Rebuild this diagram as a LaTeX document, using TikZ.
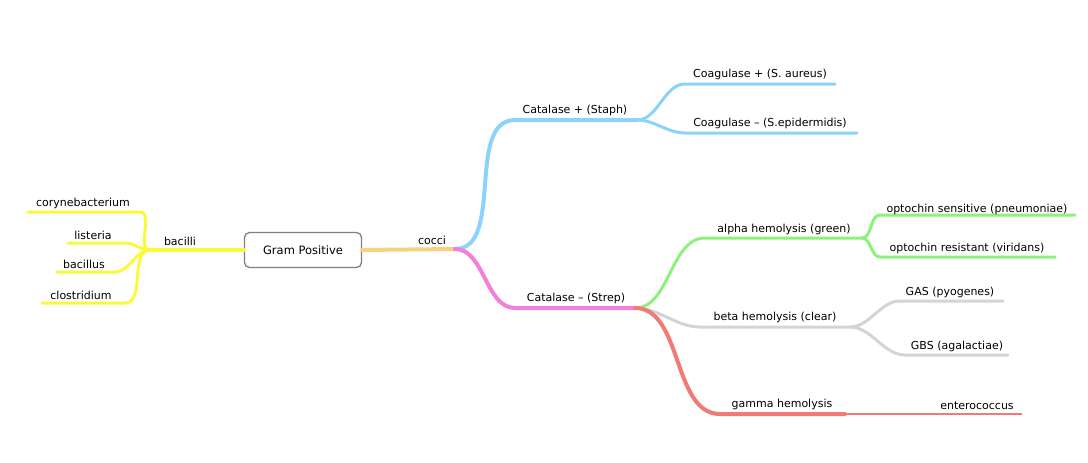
\documentclass[tikz,border=0pt]{standalone}
\usepackage{fontspec}
\setmainfont{DejaVu Sans}
\begin{document}
\begin{tikzpicture}[x=1pt,y=-1pt,
  lbl/.style={font=\fontsize{11}{13}\selectfont,inner sep=1pt},
  br/.style={line width=4pt,line cap=round},
  sub/.style={line width=3pt,line cap=round},
  cv/.style={out=0,in=180,looseness=0.9},
  cvl/.style={out=180,in=0,looseness=0.9}]
\definecolor{yel}{HTML}{FAFA3C}
\definecolor{org}{HTML}{F5D27E}
\definecolor{blu}{HTML}{8CD2FA}
\definecolor{pnk}{HTML}{F27FDC}
\definecolor{grn}{HTML}{8CF27A}
\definecolor{gry}{HTML}{D4D4D4}
\definecolor{rd}{HTML}{F27A74}
\useasboundingbox (0,0) rectangle (1088,463);
% root
\node[draw=gray,line width=1.3pt,rounded corners=5pt,minimum width=117pt,minimum height=35pt,font=\fontsize{11.5}{13}\selectfont] (gp) at (303,250) {Gram Positive};
% coordinates
\coordinate (bj) at (150,250);
\coordinate (cj) at (455,249);
\coordinate (c1s) at (28,212); \coordinate (c1e) at (140,212);
\coordinate (c2s) at (68,243); \coordinate (c2e) at (125,243);
\coordinate (c3s) at (57,272); \coordinate (c3e) at (115,272);
\coordinate (c4s) at (42,303); \coordinate (c4e) at (125,303);
\coordinate (sps) at (515,120); \coordinate (spe) at (637,120);
\coordinate (sts) at (515,308); \coordinate (ste) at (635,308);
\coordinate (cps) at (685,84); \coordinate (cpe) at (835,84);
\coordinate (cms) at (685,133); \coordinate (cme) at (857,133);
\coordinate (als) at (705,238); \coordinate (ale) at (862,238);
\coordinate (oss) at (880,215); \coordinate (ose) at (1075,215);
\coordinate (ors) at (880,257); \coordinate (ore) at (1055,257);
\coordinate (bes) at (700,327); \coordinate (bee) at (850,327);
\coordinate (gas) at (900,301); \coordinate (gae) at (1003,301);
\coordinate (gbs) at (905,355); \coordinate (gbe) at (1008,355);
\coordinate (gms) at (720,414); \coordinate (gme) at (845,414);
\coordinate (ene) at (1022,414);
% connectors
\draw[org,br] (gp.east) -- (cj);
\draw[yel,br] (gp.west) -- (bj);
\draw[yel,sub] (bj) to[cvl] (c1e) -- (c1s);
\draw[yel,sub] (bj) to[cvl] (c2e) -- (c2s);
\draw[yel,sub] (bj) to[cvl] (c3e) -- (c3s);
\draw[yel,sub] (bj) to[cvl] (c4e) -- (c4s);
\draw[blu,br] (cj) to[cv] (sps) -- (spe);
\draw[pnk,br] (cj) to[cv] (sts) -- (ste);
\draw[blu,sub] (spe) to[cv] (cps) -- (cpe);
\draw[blu,sub] (spe) to[cv] (cms) -- (cme);
\draw[grn,sub] (ste) to[cv] (als) -- (ale);
\draw[grn,sub] (ale) to[cv] (oss) -- (ose);
\draw[grn,sub] (ale) to[cv] (ors) -- (ore);
\draw[gry,sub] (ste) to[cv] (bes) -- (bee);
\draw[gry,sub] (bee) to[cv] (gas) -- (gae);
\draw[gry,sub] (bee) to[cv] (gbs) -- (gbe);
\draw[rd,br] (ste) to[cv] (gms) -- (gme);
\draw[rd,line width=2.2pt] (gme) -- (ene);
% labels
\node[lbl,anchor=south] (n1) at (83,210) {corynebacterium};
\node[lbl,anchor=south] (n2) at (93,241) {listeria};
\node[lbl,anchor=south] (n3) at (84,270) {bacillus};
\node[lbl,anchor=south] (n4) at (81,301) {clostridium};
\node[lbl,anchor=south] (n5) at (180,247) {bacilli};
\node[lbl,anchor=south] (n6) at (432,246) {cocci};
\node[lbl,anchor=south] (n7) at (575,117) {Catalase + (Staph)};
\node[lbl,anchor=south] (n8) at (576,305) {Catalase – (Strep)};
\node[lbl,anchor=south] (n9) at (760,81) {Coagulase + (S. aureus)};
\node[lbl,anchor=south] (n10) at (770,130) {Coagulase – (S.epidermidis)};
\node[lbl,anchor=south] (n11) at (784,236) {alpha hemolysis (green)};
\node[lbl,anchor=south] (n12) at (977,216) {optochin sensitive (pneumoniae)};
\node[lbl,anchor=south] (n13) at (967,255) {optochin resistant (viridans)};
\node[lbl,anchor=south] (n14) at (775,324) {beta hemolysis (clear)};
\node[lbl,anchor=south] (n15) at (950,299) {GAS (pyogenes)};
\node[lbl,anchor=south] (n16) at (957,353) {GBS (agalactiae)};
\node[lbl,anchor=south] (n17) at (782,411) {gamma hemolysis};
\node[lbl,anchor=south] (n18) at (977,411) {enterococcus};
\end{tikzpicture}
\end{document}
